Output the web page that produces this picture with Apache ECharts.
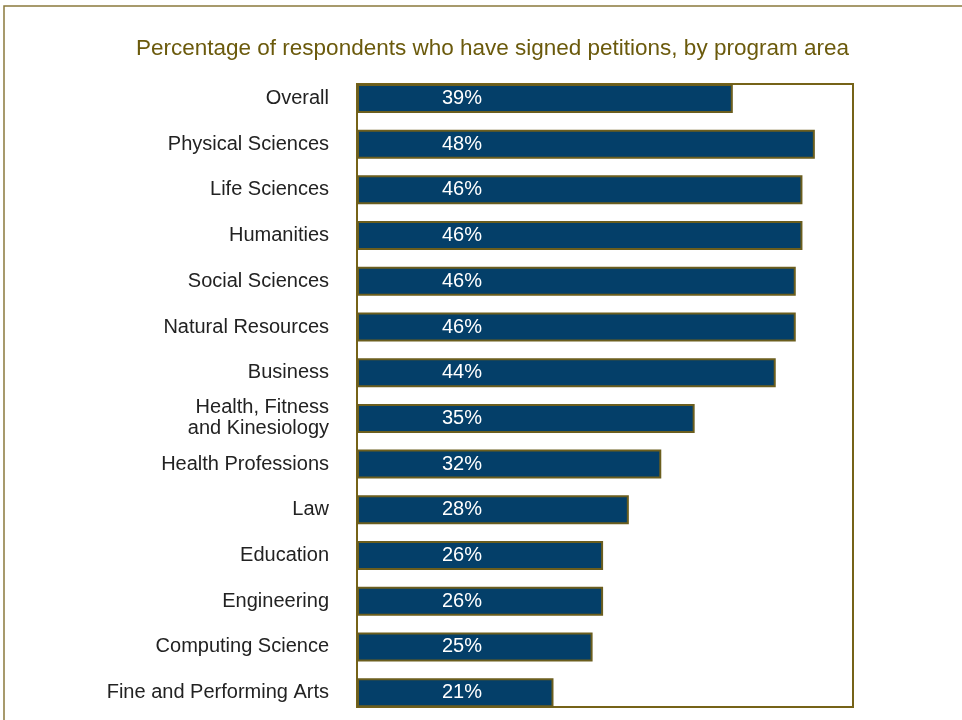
<!DOCTYPE html>
<html>
<head>
<meta charset="utf-8">
<script src="https://cdn.jsdelivr.net/npm/echarts@6/dist/echarts.min.js"></script>
<style>
html,body{margin:0;padding:0;background:#fff;}
#chart{width:962px;height:720px;}
</style>
</head>
<body>
<div id="chart"></div>
<script>
var titleText = 'Percentage of respondents who have signed petitions, by program area';
var categories = ['Overall','Physical Sciences','Life Sciences','Humanities','Social Sciences','Natural Resources','Business','Health, Fitness\nand Kinesiology','Health Professions','Law','Education','Engineering','Computing Science','Fine and Performing Arts'];
var values = [39.4, 48.0, 46.7, 46.7, 46.0, 46.0, 43.9, 35.4, 31.9, 28.5, 25.8, 25.8, 24.7, 20.6];
var valueLabels = ['39%','48%','46%','46%','46%','46%','44%','35%','32%','28%','26%','26%','25%','21%'];
var axisMax = 52;

var chart = echarts.init(document.getElementById('chart'), null, {renderer:'canvas'});
chart.setOption({
  animation: false,
  backgroundColor: '#ffffff',
  title: {
    text: titleText,
    left: 131,
    top: 32,
    textStyle: {fontFamily: 'Liberation Sans', fontSize: 22.5, fontWeight: 'normal', color: '#6b5a0c'}
  },
  grid: {left: 357, right: 109, top: 75.6, bottom: 4.5, containLabel: false},
  xAxis: {type: 'value', min: 0, max: axisMax, show: false},
  yAxis: {
    type: 'category', data: categories, inverse: true,
    axisLine: {show: false}, axisTick: {show: false}, splitLine: {show: false},
    axisLabel: {fontFamily: 'Liberation Sans', fontSize: 20, color: '#222222', margin: 28, lineHeight: 21, align: 'right'}
  },
  graphic: [
    {type: 'rect', z: 0, shape: {x: 4, y: 6, width: 1000, height: 800}, style: {fill: 'none', stroke: '#8a7a3c', lineWidth: 1.5}},
    {type: 'rect', z: 0, shape: {x: 357, y: 84, width: 496, height: 623}, style: {fill: 'none', stroke: '#766318', lineWidth: 2}}
  ],
  series: [{
    type: 'bar',
    data: values,
    barWidth: 29,
    z: 3,
    itemStyle: {color: '#043f69', borderColor: '#6b5e1e', borderWidth: 2},
    label: {
      show: true,
      position: [105, '50%'],
      align: 'center',
      verticalAlign: 'middle',
      fontFamily: 'Liberation Sans',
      fontSize: 20,
      color: '#ffffff',
      formatter: function (p) { return valueLabels[p.dataIndex]; }
    }
  }]
});
</script>
</body>
</html>
